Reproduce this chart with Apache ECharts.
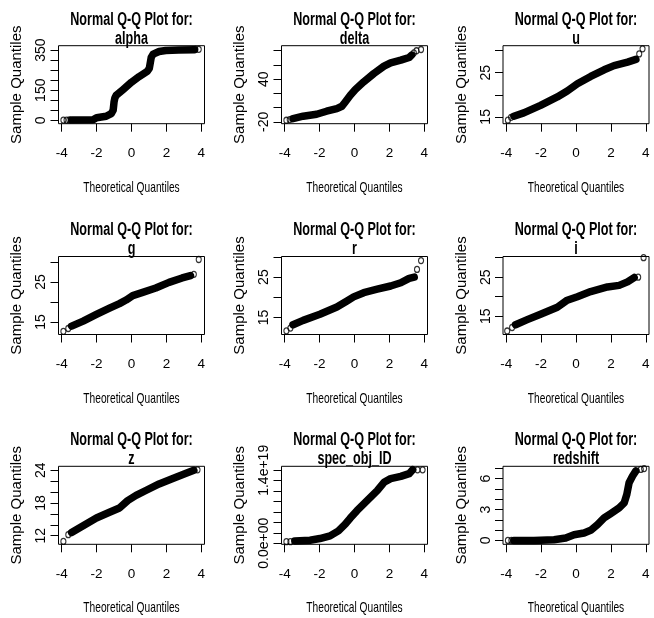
<!DOCTYPE html>
<html><head><meta charset="utf-8">
<script src="https://cdn.jsdelivr.net/npm/echarts@6/dist/echarts.min.js"></script>
<style>html,body{margin:0;padding:0;background:#fff}#c{width:654px;height:618px}</style>
</head><body><div id="c"></div>
<script>
// ---- data (theoretical quantile / sample quantile) ----
const xTicks = [-4, -2, 0, 2, 4];
const varNames = ['alpha', 'delta', 'u', 'g', 'r', 'i', 'z', 'spec_obj_ID', 'redshift'];

const alphaQ = [-3.43, -2.2, -2.0, -1.45, -1.16, -1.05, -1.0, -0.95, -0.88, -0.5, 0, 0.44, 0.9, 1.02, 1.08, 1.13, 1.24, 1.58, 1.96, 2.7, 3.6];
const alphaS = [2, 3, 13, 20, 33, 50, 91, 112, 124, 152, 190, 218, 244, 259, 289, 314, 330, 343, 348, 350, 352];
const alphaOutQ = [-3.9, -3.72, -3.56, 3.66, 3.85];
const alphaOutS = [1, 1, 1.5, 353, 354];
const alphaTicks = [0, 50, 100, 150, 200, 250, 300, 350];
const alphaLabels = [0, 150, 350];

const deltaQ = [-3.52, -2.94, -2.17, -1.6, -1.01, -0.72, -0.53, -0.24, 0.05, 0.53, 1.11, 1.69, 2.07, 2.65, 3.13, 3.27];
const deltaS = [-15.3, -12.0, -9.2, -5.0, -1.25, 2.0, 8.1, 17.5, 25.5, 36.3, 48.0, 58.3, 63, 66.7, 70.5, 73.8];
const deltaOutQ = [-3.9, -3.71, 3.4, 3.55, 3.81];
const deltaOutS = [-17.7, -16.7, 77, 79.9, 81.7];
const deltaTicks = [-20, 0, 20, 40, 60, 80];
const deltaLabels = [-20, 40];

const uQ = [-3.56, -2.99, -2.03, -1.07, -0.5, 0.08, 0.84, 1.61, 2.18, 2.95, 3.43];
const uS = [15.15, 15.9, 17.6, 19.5, 20.85, 22.5, 24.15, 25.65, 26.6, 27.4, 28.0];
const uOutQ = [-3.9, -3.72, 3.62, 3.81];
const uOutS = [14.25, 14.9, 29.25, 30.4];
const uTicks = [15, 20, 25, 30];
const uLabels = [15, 25];

const gQ = [-3.43, -2.77, -2.01, -1.26, -0.69, -0.31, 0.07, 0.64, 1.39, 2.15, 2.9, 3.38];
const gS = [14.0, 15.25, 16.9, 18.45, 19.6, 20.5, 21.6, 22.4, 23.5, 24.9, 26.0, 26.6];
const gOutQ = [-3.9, -3.62, 3.57, 3.85];
const gOutS = [12.7, 13.4, 26.9, 30.6];
const gTicks = [15, 20, 25, 30];
const gLabels = [15, 25];

const rQ = [-3.52, -2.94, -1.98, -1.01, -0.43, -0.05, 0.53, 1.3, 2.07, 2.65, 3.13, 3.42];
const rS = [13.2, 14.3, 15.8, 17.6, 19.1, 20.1, 21.15, 22.0, 22.8, 23.6, 24.7, 25.0];
const rOutQ = [-3.9, -3.67, 3.58, 3.81];
const rOutS = [11.7, 12.4, 26.9, 29.1];
const rTicks = [15, 20, 25, 30];
const rLabels = [15, 25];

const iQ = [-3.46, -2.79, -2.03, -1.07, -0.5, 0.08, 0.84, 1.8, 2.47, 2.95, 3.33];
const iS = [12.8, 14.1, 15.5, 17.3, 19.1, 20.0, 21.3, 22.5, 22.9, 23.8, 24.9];
const iOutQ = [-3.94, -3.66, 3.56, 3.87];
const iOutS = [11.2, 12.1, 25.0, 30.0];
const iTicks = [15, 20, 25, 30];
const iLabels = [15, 25];

const zQ = [-3.43, -2.77, -2.01, -1.26, -0.69, -0.22, 0.26, 0.82, 1.58, 2.33, 3.09, 3.57];
const zS = [12.6, 13.85, 15.25, 16.3, 17.1, 18.45, 19.4, 20.3, 21.5, 22.45, 23.4, 24.0];
const zOutQ = [-3.9, -3.62, 3.78];
const zOutS = [10.95, 12.2, 24.1];
const zTicks = [12, 14, 16, 18, 20, 22, 24];
const zLabels = [12, 18, 24];

const specQ = [-3.42, -2.55, -1.98, -1.4, -0.92, -0.53, -0.24, 0.14, 0.72, 1.3, 1.69, 2.07, 2.65, 3.13, 3.33];
const specS = [4.5e17, 5.8e17, 9.0e17, 1.41e18, 2.38e18, 3.67e18, 4.83e18, 6.25e18, 8.2e18, 1.01e19, 1.17e19, 1.24e19, 1.284e19, 1.336e19, 1.41e19];
const specOutQ = [-3.9, -3.67, 3.61, 3.9];
const specOutS = [3.1e17, 3.1e17, 1.41e19, 1.41e19];
const specTicks = [0, 2e18, 4e18, 6e18, 8e18, 1e19, 1.2e19, 1.4e19];
const specLabels = [0, 1.4e19];

const zsQ = [-3.56, -2.41, -1.26, -0.59, -0.11, 0.46, 0.84, 1.23, 1.61, 1.99, 2.47, 2.76, 2.91, 3.04, 3.24, 3.43];
const zsS = [0, 0, 0.07, 0.23, 0.55, 0.72, 0.98, 1.53, 2.18, 2.61, 3.16, 3.65, 4.47, 5.6, 6.26, 6.75];
const zsOutQ = [-3.9, -3.7, 3.71, 3.9];
const zsOutS = [0, 0, 6.9, 6.98];
const zsTicks = [0, 1, 2, 3, 4, 5, 6, 7];
const zsLabels = [0, 3, 6];

const xTitle = 'Theoretical Quantiles';
const yTitle = 'Sample Quantiles';
const mainTitle = 'Normal Q-Q Plot for:';

// ---- panel assembly ----
const panels = [
  {q: alphaQ, s: alphaS, oq: alphaOutQ, os: alphaOutS, ticks: alphaTicks, labels: alphaLabels, min: -17, max: 372},
  {q: deltaQ, s: deltaS, oq: deltaOutQ, os: deltaOutS, ticks: deltaTicks, labels: deltaLabels, min: -22.5, max: 87},
  {q: uQ, s: uS, oq: uOutQ, os: uOutS, ticks: uTicks, labels: uLabels, min: 13.45, max: 31.1},
  {q: gQ, s: gS, oq: gOutQ, os: gOutS, ticks: gTicks, labels: gLabels, min: 11.9, max: 31.35},
  {q: rQ, s: rS, oq: rOutQ, os: rOutS, ticks: rTicks, labels: rLabels, min: 10.8, max: 30.1},
  {q: iQ, s: iS, oq: iOutQ, os: iOutS, ticks: iTicks, labels: iLabels, min: 10.3, max: 30.3},
  {q: zQ, s: zS, oq: zOutQ, os: zOutS, ticks: zTicks, labels: zLabels, min: 10.43, max: 24.74},
  {q: specQ, s: specS, oq: specOutQ, os: specOutS, ticks: specTicks, labels: specLabels, min: -2e17, max: 1.477e19},
  {q: zsQ, s: zsS, oq: zsOutQ, os: zsOutS, ticks: zsTicks, labels: zsLabels, min: -0.38, max: 7.2}
];

const colLeft = [58.5, 281.5, 503];
const rowTop = [45.7, 256.5, 466.3];
const boxW = 146, boxH = 78;
const regular = "'Liberation Sans',Arial,sans-serif";

function sciFmt(v) {
  let s = (v === 0) ? '0.0e+00' : v.toExponential(1);
  return s.replace(/e([+-])(\d)$/, 'e$10$2');
}

const grid = [], xAxis = [], yAxis = [], series = [], graphic = [];
panels.forEach((p, k) => {
  const left = colLeft[k % 3], top = rowTop[Math.floor(k / 3)];
  grid.push({left: left, top: top, width: boxW, height: boxH, show: true,
    borderColor: '#000', borderWidth: 1, backgroundColor: 'transparent', containLabel: false});
  xAxis.push({type: 'value', gridIndex: k, min: -4.18, max: 4.18, position: 'bottom',
    axisLine: {show: false, onZero: false}, splitLine: {show: false},
    axisTick: {show: true, inside: false, length: 8, customValues: xTicks, lineStyle: {color: '#000', width: 1}},
    axisLabel: {customValues: xTicks, margin: 30, verticalAlign: 'middle', color: '#000', fontFamily: regular, fontSize: 13.5}
  });
  const isSci = k === 7;
  yAxis.push({type: 'value', gridIndex: k, min: p.min, max: p.max, position: 'left',
    axisLine: {show: false, onZero: false}, splitLine: {show: false},
    axisTick: {show: true, inside: false, length: 8, customValues: p.ticks, lineStyle: {color: '#000', width: 1}},
    axisLabel: {customValues: p.labels, rotate: 90, margin: 17, align: 'center', verticalAlign: 'middle',
      color: '#000', fontFamily: regular, fontSize: 14,
      formatter: isSci ? sciFmt : (v => String(v))},
    name: yTitle, nameLocation: 'middle', nameGap: 41.5, nameRotate: 90,
    nameTextStyle: {color: '#000', fontFamily: regular, fontSize: 15, align: 'center', verticalAlign: 'middle'}
  });
  series.push({type: 'line', xAxisIndex: k, yAxisIndex: k, showSymbol: false, symbol: 'none',
    data: p.q.map((x, j) => [x, p.s[j]]), silent: true, animation: false,
    lineStyle: {color: '#000', width: 7.5, cap: 'round', join: 'round'}});
  series.push({type: 'scatter', xAxisIndex: k, yAxisIndex: k, symbol: 'circle', symbolSize: [5, 6],
    data: p.oq.map((x, j) => [x, p.os[j]]), silent: true, animation: false,
    itemStyle: {color: 'rgba(0,0,0,0)', borderColor: '#000', borderWidth: 1.2}});
  const cx = left + boxW / 2;
  graphic.push({type: 'text', x: cx, y: top - 26, scaleX: 0.7, silent: true,
    style: {text: mainTitle, font: "bold 18px 'Liberation Sans',Arial,sans-serif", fill: '#000', textAlign: 'center', textVerticalAlign: 'middle'}});
  graphic.push({type: 'text', x: cx, y: top - 7, scaleX: 0.7, silent: true,
    style: {text: varNames[k], font: "bold 18px 'Liberation Sans',Arial,sans-serif", fill: '#000', textAlign: 'center', textVerticalAlign: 'middle'}});
  graphic.push({type: 'text', x: cx, y: top + boxH + 64, scaleX: 0.68, silent: true,
    style: {text: xTitle, font: "15px 'Liberation Sans',Arial,sans-serif", fill: '#000', textAlign: 'center', textVerticalAlign: 'middle'}});
});

const chart = echarts.init(document.getElementById('c'));
chart.setOption({backgroundColor: '#fff', animation: false, grid, xAxis, yAxis, series, graphic});
</script></body></html>
